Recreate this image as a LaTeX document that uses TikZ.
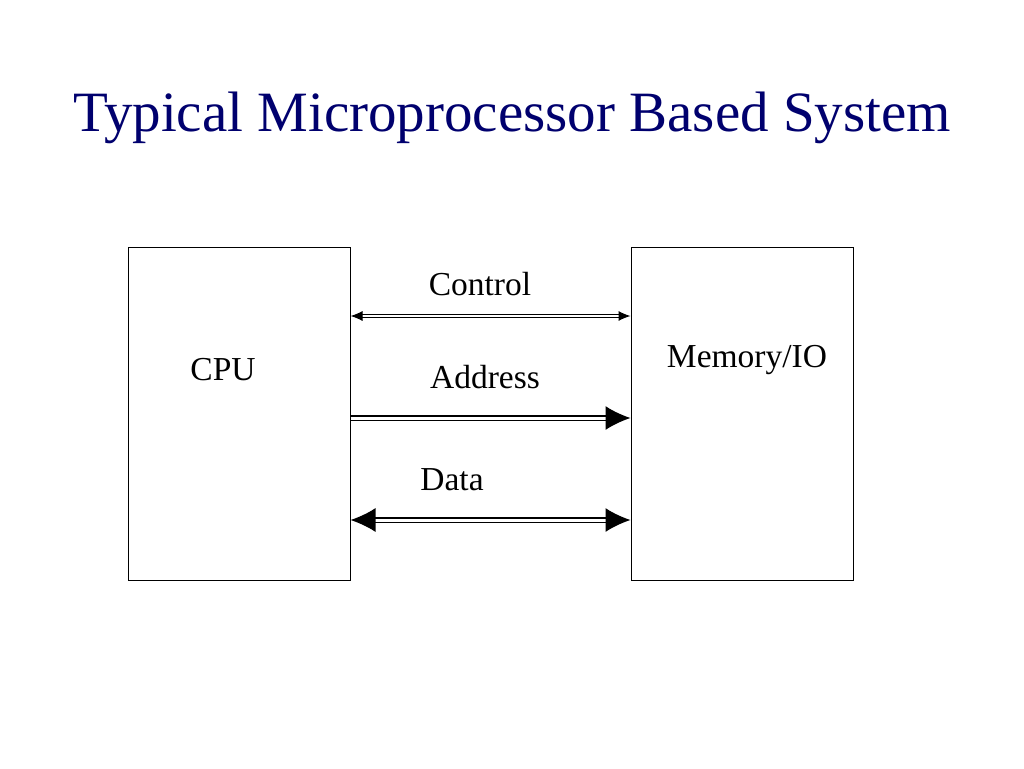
\documentclass[tikz,border=0pt]{standalone}
\usepackage{fontspec}
\setmainfont{Liberation Serif}
\usetikzlibrary{arrows.meta}
\definecolor{titleblue}{RGB}{0,0,110}
\begin{document}
\begin{tikzpicture}[x=1pt,y=-1pt,
  box/.style={draw,line width=1pt,minimum width=222pt,minimum height=333pt,inner sep=0pt},
  lbl/.style={font=\fontsize{33.5}{40}\selectfont},
  bus/.style={double,line width=1pt}]
\useasboundingbox (0,0) rectangle (1024,768);
\node[font=\fontsize{57}{68}\selectfont,text=titleblue] (title) at (512,118) {Typical Microprocessor Based System};
\node[box] (cpu) at (239,413.5) {};
\node[box] (mem) at (742,413.5) {};
\node[lbl] (cpul) at (223,370) {CPU};
\node[lbl] (meml) at (747,360) {Memory/IO};
\coordinate (c1) at (cpu.east |- 0,316); \coordinate (c2) at (mem.west |- 0,316);
\coordinate (a1) at (cpu.east |- 0,418); \coordinate (a2) at (mem.west |- 0,418);
\coordinate (d1) at (cpu.east |- 0,520); \coordinate (d2) at (mem.west |- 0,520);
\draw[bus,double distance=1.5pt,{Latex[length=12pt,width=10pt]}-{Latex[length=12pt,width=10pt]}] (c1) -- (c2);
\draw[bus,line width=1.4pt,double distance=3pt,-{Latex[length=25pt,width=24pt]}] (a1) -- (a2);
\draw[bus,line width=1.4pt,double distance=3pt,{Latex[length=25pt,width=24pt]}-{Latex[length=25pt,width=24pt]}] (d1) -- (d2);
\node[lbl] (cl) at (480,284) {Control};
\node[lbl] (al) at (485,377) {Address};
\node[lbl] (dl) at (452,480) {Data};
\end{tikzpicture}
\end{document}
